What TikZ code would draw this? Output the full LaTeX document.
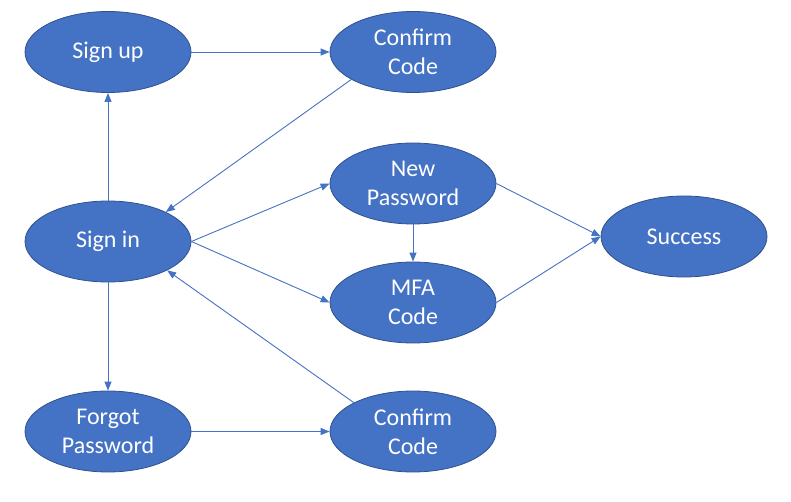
\documentclass[tikz,border=0pt]{standalone}
\usepackage{fontspec}
\setmainfont{Carlito}
\usepackage{tikz}
\usetikzlibrary{positioning,arrows.meta,shapes.geometric}
\definecolor{FlowFill}{HTML}{4472C4}
\definecolor{FlowEdge}{HTML}{2F528F}
\definecolor{FlowLine}{HTML}{4472C4}
\tikzset{
  stateoval/.style={ellipse, draw=FlowEdge, line width=0.8pt, fill=FlowFill, text=white, align=center, minimum width=166pt, minimum height=81pt, inner sep=0pt, font=\fontsize{24}{29}\selectfont},
  flowarr/.style={-{Triangle[length=9pt,width=7pt]}, line width=0.9pt, draw=FlowLine}
}
\begin{document}
\begin{tikzpicture}[x=1pt,y=1pt]
      \useasboundingbox (0,0) rectangle (791,501);
      \node[stateoval] (signup) at (108,449) {Sign up};
      \node[stateoval] (confirmup) at (413,449) {Confirm\\Code};
      \node[stateoval] (signin) at (108,259.5) {Sign in};
      \node[stateoval] (newpwd) at (413,317.5) {New\\Password};
      \node[stateoval] (mfa) at (413,198.5) {MFA\\Code};
      \node[stateoval] (success) at (684,264.5) {Success};
      \node[stateoval] (forgot) at (108,69.5) {Forgot\\Password};
      \node[stateoval] (confirmdown) at (413,69.5) {Confirm\\Code};
      \draw[flowarr] (signup) -- (confirmup);
      \draw[flowarr] (confirmup.204) -- (signin.27);
      \draw[flowarr] (signin) -- (signup);
      \draw[flowarr] (signin) -- (forgot);
      \draw[flowarr] (forgot) -- (confirmdown);
      \draw[flowarr] (confirmdown.154) -- (signin.334);
      \draw[flowarr] (signin.east) -- (newpwd.west);
      \draw[flowarr] (signin.east) -- (mfa.west);
      \draw[flowarr] (newpwd) -- (mfa);
      \draw[flowarr] (newpwd.east) -- (success.west);
      \draw[flowarr] (mfa.east) -- (success.west);
    \end{tikzpicture}
\end{document}
